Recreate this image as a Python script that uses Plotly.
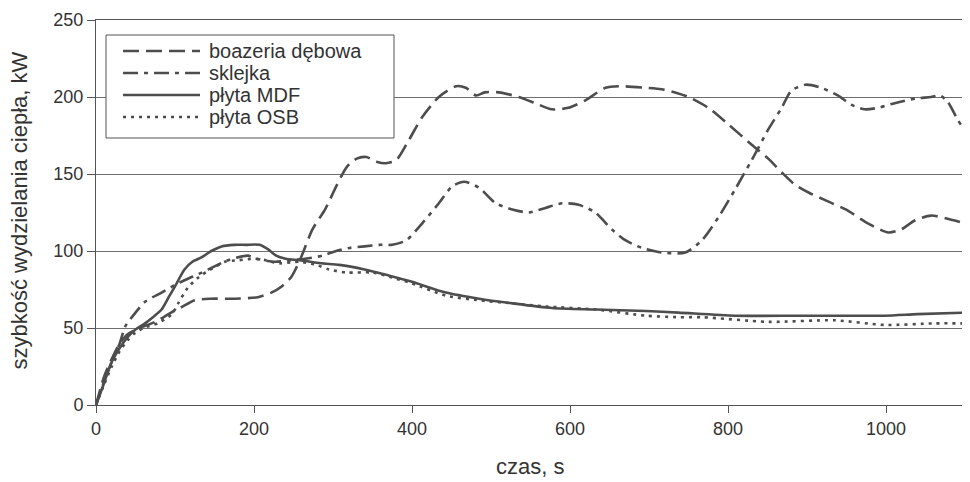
import plotly.graph_objects as go

# time (s) and heat release rate (kW)
boazeria_t = [0, 10, 20, 30, 40, 55, 75, 95, 110, 125, 145, 175, 205, 222, 235, 247, 258, 274, 290, 305, 318, 330, 342, 355, 367, 380, 396, 413, 434, 456, 468, 481, 492, 510, 535, 556, 577, 598, 620, 645, 665, 695, 716, 733, 750, 775, 801, 830, 851, 870, 885, 902, 923, 949, 977, 1003, 1019, 1037, 1057, 1078, 1100]
boazeria_v = [0, 18, 30, 40, 46, 50, 54, 60, 64, 68, 69, 69, 70, 73, 77, 83, 94, 114, 127, 143, 155, 160, 161, 158, 157, 159, 172, 187, 200, 207, 206, 201, 203, 203, 200, 196, 192, 193, 198, 206, 207, 206, 205, 203, 200, 193, 182, 169, 160, 150, 143, 138, 133, 127, 118, 112, 114, 120, 123, 121, 118]

sklejka_t = [0, 10, 20, 30, 37, 50, 62, 83, 100, 112, 134, 150, 167, 192, 203, 226, 247, 265, 287, 304, 321, 340, 359, 375, 393, 413, 434, 451, 466, 485, 506, 527, 548, 569, 590, 611, 632, 653, 670, 691, 716, 746, 767, 788, 809, 830, 851, 868, 880, 898, 918, 939, 956, 973, 990, 1011, 1037, 1057, 1068, 1078, 1091, 1100]
sklejka_v = [0, 15, 28, 40, 51, 60, 67, 73, 78, 81, 86, 90, 94, 97, 95, 93, 94, 95, 97, 100, 102, 103, 104, 104, 107, 118, 131, 142, 145, 141, 131, 127, 125, 128, 131, 130, 125, 114, 107, 102, 99, 99, 107, 122, 140, 159, 179, 193, 204, 208, 206, 201, 195, 192, 193, 196, 199, 200, 201, 197, 185, 178]

mdf_t = [0, 10, 19, 30, 40, 50, 62, 72, 83, 92, 100, 112, 122, 134, 146, 159, 175, 190, 207, 218, 228, 240, 258, 285, 308, 340, 371, 400, 443, 485, 527, 577, 633, 696, 737, 809, 893, 998, 1040, 1100]
mdf_v = [0, 14, 27, 37, 44, 49, 53, 57, 62, 70, 77, 88, 93, 96, 100, 103, 104, 104, 104, 101, 97, 95, 94, 92, 91, 88, 84, 80, 73, 69, 66, 63, 62, 61, 60, 58, 58, 58, 59, 60]

osb_t = [0, 10, 20, 30, 40, 50, 60, 78, 96, 104, 116, 130, 145, 163, 180, 201, 215, 232, 258, 279, 295, 317, 350, 380, 400, 443, 485, 527, 569, 633, 696, 737, 767, 851, 935, 998, 1062, 1100]
osb_v = [0, 13, 25, 35, 42, 47, 50, 53, 59, 66, 76, 83, 88, 93, 94, 95, 94, 92, 93, 91, 88, 86, 86, 82, 79, 71, 68, 66, 64, 62, 58, 57, 57, 54, 55, 52, 53, 53]

names = ["boazeria dębowa", "sklejka", "płyta MDF", "płyta OSB"]
x_ticks = [0, 200, 400, 600, 800, 1000]
y_ticks = [0, 50, 100, 150, 200, 250]
x_title = "czas, s"
y_title = "szybkość wydzielania ciepła, kW"

LINE = "#4d4d4d"
AXIS = "#555555"
TEXT = "#333333"
FONT = "Liberation Sans, Arial, sans-serif"
dashes = ["16px,7px", "15px,6px,4px,6px", "solid", "3px,5px"]

series = [(boazeria_t, boazeria_v), (sklejka_t, sklejka_v), (mdf_t, mdf_v), (osb_t, osb_v)]

fig = go.Figure()
for (t, v), n, d in zip(series, names, dashes):
    fig.add_trace(go.Scatter(
        x=t, y=v, name=n, mode="lines", showlegend=False,
        line=dict(color=LINE, width=2.6, dash=d, shape="spline", smoothing=0.7),
    ))

# plot area geometry (px) used to place the legend box in paper coordinates
PW, PH = 869.0, 385.0
def px_x(dx):
    return dx / PW
def px_y(dy):
    return 1 - dy / PH

shapes = [dict(type="rect", xref="paper", yref="paper", layer="above",
               x0=px_x(10), x1=px_x(298), y0=px_y(118), y1=px_y(15),
               line=dict(color=AXIS, width=1), fillcolor="white")]
annotations = []
row_y = [31, 53, 75, 97]
for n, d, ry in zip(names, dashes, row_y):
    shapes.append(dict(type="line", xref="paper", yref="paper", layer="above",
                       x0=px_x(27), x1=px_x(104), y0=px_y(ry), y1=px_y(ry),
                       line=dict(color=LINE, width=2.6, dash=d)))
    annotations.append(dict(text=n, xref="paper", yref="paper", x=px_x(111), y=px_y(ry),
                            xanchor="left", yanchor="middle", showarrow=False,
                            font=dict(size=20, color=TEXT, family=FONT)))

annotations.append(dict(text=y_title, xref="paper", yref="paper", x=px_x(-76), y=0.505,
                        xanchor="center", yanchor="middle", textangle=-90, showarrow=False,
                        font=dict(size=22, color=TEXT, family=FONT)))
annotations.append(dict(text=x_title, xref="paper", yref="paper", x=0.499, y=px_y(PH + 61),
                        xanchor="center", yanchor="middle", showarrow=False,
                        font=dict(size=22, color=TEXT, family=FONT)))

fig.update_layout(
    width=962, height=474,
    margin=dict(l=88, r=5, t=12, b=77, autoexpand=False),
    paper_bgcolor="white", plot_bgcolor="white",
    font=dict(family=FONT, size=18, color=TEXT),
    showlegend=False,
    shapes=shapes, annotations=annotations,
    xaxis=dict(
        range=[0, 1100], tickvals=x_ticks, ticks="outside", ticklen=7,
        tickcolor=AXIS, showline=True, linecolor=AXIS, linewidth=1,
        mirror=True, showgrid=False, zeroline=False, automargin=False,
        tickfont=dict(size=18),
    ),
    yaxis=dict(
        range=[0, 250], tickvals=y_ticks, ticks="outside", ticklen=8,
        tickcolor=AXIS, showline=True, linecolor=AXIS, linewidth=1,
        mirror=True, showgrid=True, gridcolor="#6e6e6e", gridwidth=1,
        zeroline=False, automargin=False, tickfont=dict(size=18),
    ),
)

fig.write_html("out.html")
